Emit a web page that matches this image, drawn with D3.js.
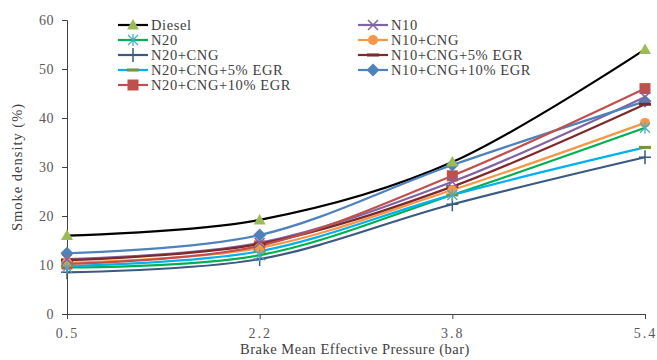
<!DOCTYPE html>
<html>
<head>
<meta charset="utf-8">
<script src="https://cdn.jsdelivr.net/npm/d3@7"></script>
<style>
  body { margin: 0; background: #fff; }
  text { font-family: "Liberation Serif", "Times New Roman", serif; }
</style>
</head>
<body>
<div id="chart"></div>
<script>
const categories = ["0.5", "2.2", "3.8", "5.4"];
const yTicks = [0, 10, 20, 30, 40, 50, 60];

const seriesNames = ["Diesel", "N10", "N20", "N10+CNG", "N20+CNG", "N10+CNG+5% EGR",
  "N20+CNG+5% EGR", "N10+CNG+10% EGR", "N20+CNG+10% EGR"];

const diesel = [16, 19.2, 31, 54];
const n10 = [11.2, 14.5, 27, 44.3];
const n20 = [9.5, 12, 24.3, 38];
const n10Cng = [10.5, 13.5, 25.3, 39];
const n20Cng = [8.5, 11.2, 22.4, 32];
const n10Cng5 = [11, 14.3, 26, 42.8];
const n20Cng5 = [9.8, 12.8, 24.3, 34];
const n10Cng10 = [12.4, 16.1, 30.4, 43.4];
const n20Cng10 = [10.2, 13.9, 28.2, 46];

const series = [
  {name: seriesNames[0], values: diesel, line: "#000000", mark: "#9bbb59", shape: "triangle"},
  {name: seriesNames[1], values: n10, line: "#8064a2", mark: "#8064a2", shape: "x"},
  {name: seriesNames[2], values: n20, line: "#00b050", mark: "#4bacc6", shape: "star"},
  {name: seriesNames[3], values: n10Cng, line: "#f79646", mark: "#f79646", shape: "circle"},
  {name: seriesNames[4], values: n20Cng, line: "#3b5a80", mark: "#3b5a80", shape: "plus"},
  {name: seriesNames[5], values: n10Cng5, line: "#7f2a2a", mark: "#7f2a2a", shape: "dash"},
  {name: seriesNames[6], values: n20Cng5, line: "#00b0f0", mark: "#77933c", shape: "dash"},
  {name: seriesNames[7], values: n10Cng10, line: "#4f81bd", mark: "#4f81bd", shape: "diamond"},
  {name: seriesNames[8], values: n20Cng10, line: "#c0504d", mark: "#c0504d", shape: "square"}
];

const width = 657, height = 360;
const margin = {top: 20, right: 12, bottom: 46, left: 67};

const svg = d3.select("#chart").append("svg")
  .attr("width", width)
  .attr("height", height);

const x = d3.scalePoint()
  .domain(categories)
  .range([margin.left, width - margin.right]);

const y = d3.scaleLinear()
  .domain([0, 60])
  .range([height - margin.bottom, margin.top]);

const axisColor = "#404040";
const labelColor = "#595959";

// y axis
const yAxis = svg.append("g")
  .attr("transform", `translate(${margin.left},0)`)
  .call(d3.axisLeft(y).tickValues(yTicks).tickSize(5).tickPadding(8));
yAxis.select(".domain").attr("stroke", axisColor);
yAxis.selectAll(".tick line").attr("stroke", axisColor);
yAxis.selectAll(".tick text")
  .attr("fill", labelColor)
  .style("font-size", "14px")
  .style("letter-spacing", "0.5px")
  .style("font-family", "Liberation Serif, serif");

// x axis
const xAxis = svg.append("g")
  .attr("transform", `translate(0,${y(0)})`)
  .call(d3.axisBottom(x).tickSize(5).tickPadding(9).tickSizeOuter(0));
xAxis.select(".domain").attr("stroke", axisColor);
xAxis.selectAll(".tick line").attr("stroke", axisColor);
xAxis.selectAll(".tick text")
  .attr("fill", labelColor)
  .style("font-size", "14px")
  .style("letter-spacing", "2px")
  .style("font-family", "Liberation Serif, serif");

svg.append("text")
  .attr("x", 355)
  .attr("y", 354)
  .attr("text-anchor", "middle")
  .attr("fill", "#404040")
  .style("font-size", "14.5px")
  .style("letter-spacing", "0.5px")
  .text("Brake Mean Effective Pressure (bar)");

svg.append("text")
  .attr("transform", "translate(22,167) rotate(-90)")
  .attr("text-anchor", "middle")
  .attr("fill", "#404040")
  .style("font-size", "14.5px")
  .style("letter-spacing", "1px")
  .text("Smoke density (%)");

const line = d3.line()
  .x((d, i) => x(categories[i]))
  .y(d => y(d))
  .curve(d3.curveCardinal.tension(0));

function drawMarker(g, shape, color, cx, cy) {
  const s = 5;
  if (shape === "triangle") {
    g.append("path").attr("d", `M${cx},${cy - 6}L${cx + 6},${cy + 4.5}L${cx - 6},${cy + 4.5}Z`).attr("fill", color);
  } else if (shape === "square") {
    g.append("rect").attr("x", cx - 5.5).attr("y", cy - 5.5).attr("width", 11).attr("height", 11).attr("fill", color);
  } else if (shape === "diamond") {
    g.append("path").attr("d", `M${cx},${cy - 6.5}L${cx + 6.5},${cy}L${cx},${cy + 6.5}L${cx - 6.5},${cy}Z`).attr("fill", color);
  } else if (shape === "circle") {
    g.append("circle").attr("cx", cx).attr("cy", cy).attr("r", 5).attr("fill", color);
  } else if (shape === "x") {
    g.append("path").attr("d", `M${cx - s},${cy - s}L${cx + s},${cy + s}M${cx - s},${cy + s}L${cx + s},${cy - s}`)
      .attr("stroke", color).attr("stroke-width", 1.5);
  } else if (shape === "plus") {
    g.append("path").attr("d", `M${cx - 6},${cy}L${cx + 6},${cy}M${cx},${cy - 7}L${cx},${cy + 7}`)
      .attr("stroke", color).attr("stroke-width", 1.5);
  } else if (shape === "star") {
    g.append("path").attr("d", `M${cx - s},${cy - s}L${cx + s},${cy + s}M${cx - s},${cy + s}L${cx + s},${cy - s}M${cx},${cy - 6}L${cx},${cy + 6}`)
      .attr("stroke", color).attr("stroke-width", 1.3);
  } else if (shape === "dash") {
    g.append("rect").attr("x", cx - 6).attr("y", cy - 1.5).attr("width", 12).attr("height", 3).attr("fill", color);
  }
}

// lines
const plot = svg.append("g");
series.forEach(s => {
  plot.append("path")
    .datum(s.values)
    .attr("d", line)
    .attr("fill", "none")
    .attr("stroke", s.line)
    .attr("stroke-width", 2.2);
});

// markers (reverse order so Diesel sits on top)
const marks = svg.append("g");
series.slice().reverse().forEach(s => {
  s.values.forEach((v, i) => drawMarker(marks, s.shape, s.mark, x(categories[i]), y(v)));
});

// legend: Diesel first, then two columns
const legend = svg.append("g");
series.forEach((s, i) => {
  const col = i === 0 ? 0 : (i % 2 === 1 ? 1 : 0);
  const r = i === 0 ? 0 : (i % 2 === 1 ? (i - 1) / 2 : i / 2);
  const lx = col === 0 ? 118 : 358;
  const ly = 25 + r * 15;
  legend.append("line")
    .attr("x1", lx).attr("x2", lx + 30)
    .attr("y1", ly).attr("y2", ly)
    .attr("stroke", s.line).attr("stroke-width", 2.2);
  drawMarker(legend, s.shape, s.mark, lx + 15, ly);
  legend.append("text")
    .attr("x", lx + 33)
    .attr("y", ly + 5)
    .attr("fill", "#404040")
    .style("font-size", "14.5px")
    .style("letter-spacing", "0.6px")
    .text(s.name);
});
</script>
</body>
</html>
